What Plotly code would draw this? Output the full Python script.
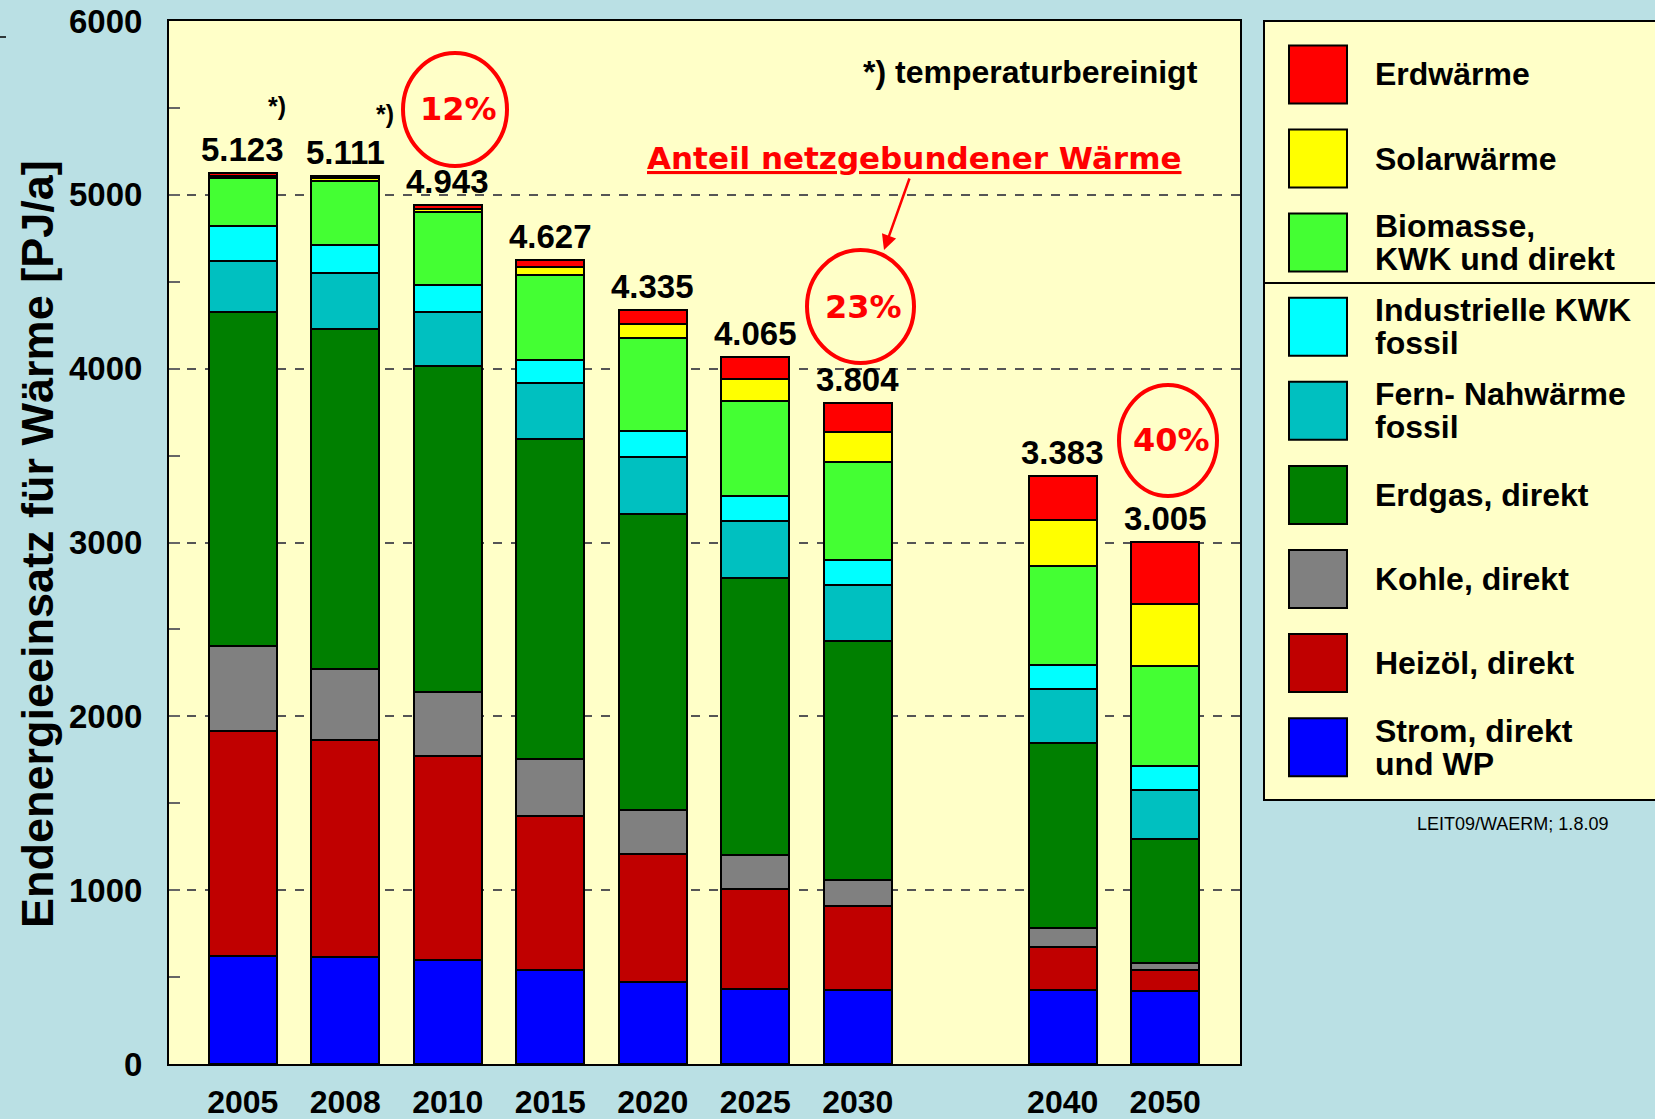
import plotly.graph_objects as go

# Jahre und Energieträger (Werte in PJ/a, von unten nach oben gestapelt)
years = ["2005", "2008", "2010", "2015", "2020", "2025", "2030", "2040", "2050"]

strom = [624, 617, 599, 541, 472, 432, 424, 424, 419]
heizoel = [1290, 1248, 1175, 886, 735, 572, 484, 249, 120]
kohle = [489, 407, 364, 328, 252, 199, 151, 111, 42]
erdgas = [1923, 1959, 1876, 1839, 1704, 1594, 1372, 1065, 712]
fernwaerme = [296, 322, 314, 322, 328, 326, 324, 306, 283]
ind_kwk = [200, 157, 155, 134, 151, 144, 145, 140, 140]
biomasse = [274, 372, 416, 487, 533, 549, 564, 571, 575]
solar = [12, 14, 21, 47, 81, 125, 171, 264, 354]
erdwaerme = [15, 15, 23, 43, 79, 124, 169, 253, 360]

series = [
    ("Strom, direkt|und WP", strom, "#0000FF"),
    ("Heizöl, direkt", heizoel, "#C00000"),
    ("Kohle, direkt", kohle, "#808080"),
    ("Erdgas, direkt", erdgas, "#007F00"),
    ("Fern- Nahwärme|fossil", fernwaerme, "#00C0C0"),
    ("Industrielle KWK|fossil", ind_kwk, "#00FFFF"),
    ("Biomasse,|KWK und direkt", biomasse, "#44FF33"),
    ("Solarwärme", solar, "#FFFF00"),
    ("Erdwärme", erdwaerme, "#FF0000"),
]

# Anteil netzgebundener Wärme
shares = ["12%", "23%", "40%"]

BG = "#BAE0E4"
PLOT_BG = "#FFFFC8"
FONT = "Liberation Sans, Arial, sans-serif"
RED_FONT = "DejaVu Sans, Verdana, sans-serif"

# Lücke zwischen 2030 und 2040
xpos = [i if i < 7 else i + 1 for i in range(len(years))]

# Pixel -> Papierkoordinaten
L, R, T, B = 169, 1240, 21, 1064


def px(x):
    return (x - L) / (R - L)


def py(y):
    return (B - y) / (B - T)


def note(x, y, text, size, color="black", family=FONT, xanchor="center", **kw):
    return dict(x=px(x), y=py(y), xref="paper", yref="paper", text=text,
                showarrow=False, xanchor=xanchor, yanchor="middle",
                font=dict(family=family, size=size, color=color), **kw)


fig = go.Figure()
for name, vals, color in series:
    fig.add_trace(go.Bar(
        x=xpos, y=vals, name=name.replace("|", " "),
        marker=dict(color=color, line=dict(color="black", width=2)),
        width=0.66, showlegend=False,
    ))

annotations = []
shapes = []

# Summen über den Balken
for i, x in enumerate(xpos):
    total = sum(s[1][i] for s in series)
    annotations.append(dict(
        x=x, y=total, xref="x", yref="y", text=f"<b>{total:,}</b>".replace(",", "."),
        showarrow=False, xanchor="center", yanchor="bottom", yshift=3,
        font=dict(family=FONT, size=33, color="black"),
    ))

# *) Markierungen
for (xx, yy) in [(277, 106), (385, 114)]:
    annotations.append(note(xx, yy, "<b>*)</b>", 25))

annotations.append(note(1200, 72, "<b>*) temperaturbereinigt</b>", 32, xanchor="right"))

# Kreise mit Prozentangaben
circles = [(403, 53, 507, 166), (807, 250, 914, 363), (1119, 385, 1217, 496)]
for (x0, y0, x1, y1), txt in zip(circles, shares):
    shapes.append(dict(
        type="circle", xref="paper", yref="paper",
        x0=px(x0), x1=px(x1), y0=py(y1), y1=py(y0),
        line=dict(color="#FF0000", width=4),
    ))
    annotations.append(note((x0 + x1) / 2 + 3, (y0 + y1) / 2, f"<b>{txt}</b>", 32,
                            color="#FF0000", family=RED_FONT))

annotations.append(note(914, 158, "<b><u>Anteil netzgebundener Wärme</u></b>", 31,
                        color="#FF0000", family=RED_FONT))
annotations.append(dict(
    x=px(884), y=py(250), xref="paper", yref="paper", text="",
    showarrow=True, ax=26, ay=-73, arrowhead=2, arrowsize=1.2,
    arrowwidth=2.5, arrowcolor="#FF0000",
))

# Y-Achsentitel
annotations.append(note(37, 544, "<b>Endenergieeinsatz für Wärme [PJ/a]</b>", 45,
                        textangle=-90))

# Legende (eigene Zeichnung)
shapes.append(dict(
    type="rect", xref="paper", yref="paper", x0=px(1264), x1=px(1665),
    y0=py(800), y1=py(21), fillcolor=PLOT_BG, line=dict(color="black", width=2),
    layer="below",
))
shapes.append(dict(
    type="line", xref="paper", yref="paper", x0=px(1264), x1=px(1665),
    y0=py(283), y1=py(283), line=dict(color="black", width=2),
))
for k, (name, vals, color) in enumerate(reversed(series)):
    cy = 74.4 + k * 84.1
    shapes.append(dict(
        type="rect", xref="paper", yref="paper", x0=px(1289), x1=px(1347),
        y0=py(cy + 29), y1=py(cy - 29), fillcolor=color,
        line=dict(color="black", width=2),
    ))
    lines = name.split("|")
    for j, line in enumerate(lines):
        ly = cy + (j - (len(lines) - 1) / 2) * 33
        annotations.append(note(1373, ly, f"<b>{line}</b>", 32, xanchor="left"))

annotations.append(note(1512, 824, "LEIT09/WAERM; 1.8.09", 18))

shapes.append(dict(
    type="line", xref="paper", yref="paper", x0=px(0), x1=px(6),
    y0=py(37), y1=py(37), line=dict(color="black", width=1.5),
))

fig.update_layout(
    width=1655, height=1119,
    margin=dict(l=L, r=1655 - R, t=T, b=1119 - B, pad=0),
    paper_bgcolor=BG, plot_bgcolor=PLOT_BG,
    barmode="stack", bargap=0,
    annotations=annotations, shapes=shapes,
    xaxis=dict(
        range=[-0.72, 9.73], tickvals=xpos, ticktext=[f"<b>{y}</b>" for y in years],
        showgrid=False, zeroline=False, showline=True, linecolor="black",
        linewidth=2, mirror=True, ticks="", ticklabelstandoff=9, automargin=False,
        tickfont=dict(family=FONT, size=32, color="black"),
    ),
    yaxis=dict(
        range=[0, 6000], tickvals=[0, 1000, 2000, 3000, 4000, 5000, 6000],
        ticktext=[f"<b>{v}</b>" for v in [0, 1000, 2000, 3000, 4000, 5000, 6000]],
        showgrid=True, gridcolor="#555555", griddash="dash", gridwidth=1.5,
        zeroline=False, showline=True, linecolor="black", linewidth=2, mirror=True,
        ticks="inside", ticklen=11, tickcolor="#666666", tickwidth=2,
        ticklabelstandoff=18, automargin=False,
        minor=dict(dtick=500, ticks="inside", ticklen=11, tickcolor="#666666",
                   tickwidth=2, showgrid=False),
        tickfont=dict(family=FONT, size=33, color="black"),
    ),
)

fig.write_html("out.html", config={"displayModeBar": False},
               post_script="document.body.style.margin='0';"
               "document.body.style.background='" + BG + "';")
